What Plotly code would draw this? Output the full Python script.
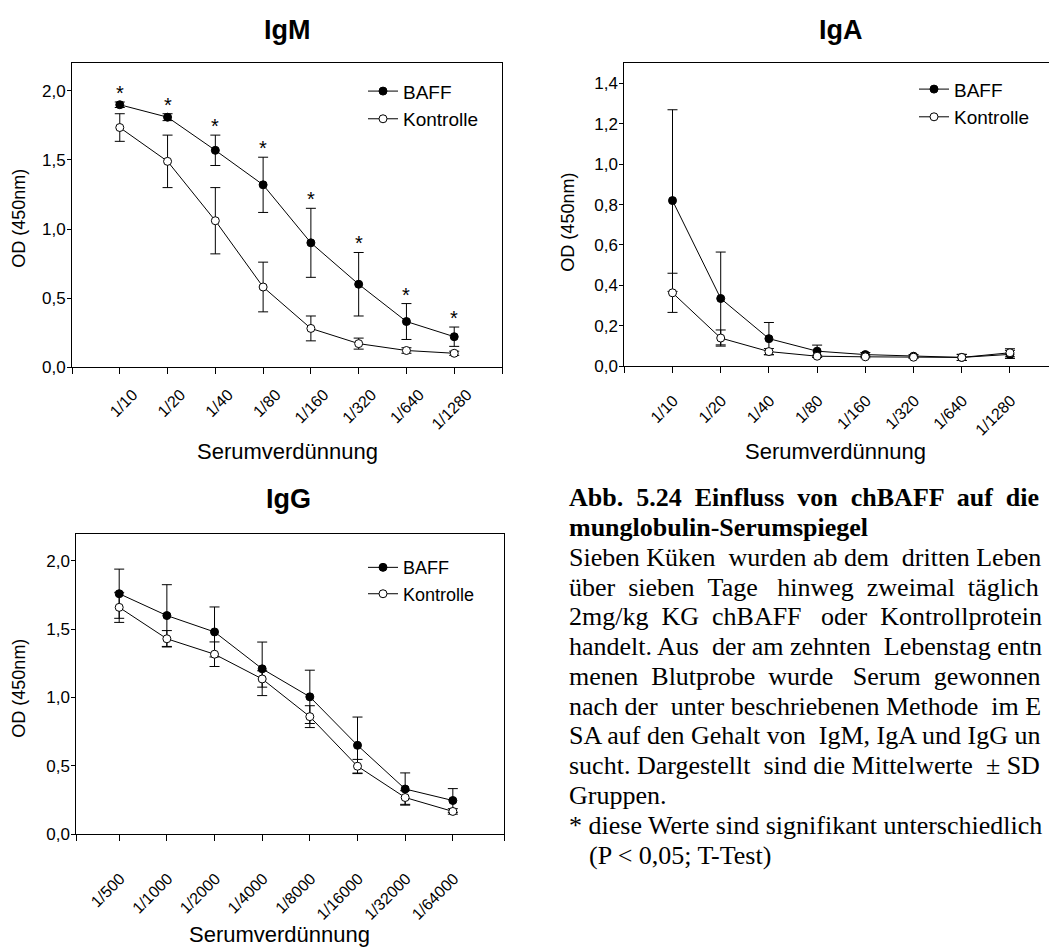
import plotly.graph_objects as go

W, H = 1049, 948

# ---------------- data ----------------
igm_labels = ["1/10", "1/20", "1/40", "1/80", "1/160", "1/320", "1/640", "1/1280"]
iga_labels = ["1/10", "1/20", "1/40", "1/80", "1/160", "1/320", "1/640", "1/1280"]
igg_labels = ["1/500", "1/1000", "1/2000", "1/4000", "1/8000", "1/16000", "1/32000", "1/64000"]

igm_baff = [1.90, 1.81, 1.57, 1.32, 0.90, 0.60, 0.33, 0.22]
igm_baff_sd = [0.02, 0.025, 0.11, 0.20, 0.25, 0.23, 0.13, 0.07]
igm_ktrl = [1.735, 1.49, 1.06, 0.58, 0.28, 0.17, 0.12, 0.10]
igm_ktrl_sd = [0.10, 0.19, 0.24, 0.18, 0.09, 0.04, 0.02, 0.015]
igm_signif = [True, True, True, True, True, True, True, True]

iga_baff = [0.82, 0.335, 0.136, 0.074, 0.057, 0.049, 0.043, 0.058]
iga_baff_sd = [0.45, 0.23, 0.08, 0.03, 0.01, 0.008, 0.015, 0.02]
iga_ktrl = [0.363, 0.139, 0.072, 0.049, 0.046, 0.044, 0.043, 0.066]
iga_ktrl_sd = [0.097, 0.04, 0.015, 0.005, 0.005, 0.005, 0.015, 0.02]

igg_baff = [1.76, 1.60, 1.48, 1.21, 1.005, 0.65, 0.33, 0.246]
igg_baff_sd = [0.18, 0.226, 0.183, 0.196, 0.195, 0.207, 0.118, 0.087]
igg_ktrl = [1.66, 1.43, 1.317, 1.136, 0.86, 0.497, 0.268, 0.166]
igg_ktrl_sd = [0.11, 0.06, 0.09, 0.06, 0.08, 0.05, 0.05, 0.02]

series_names = ["BAFF", "Kontrolle"]

# caption lines: (text, bold, justified, indent)
caption_lines = [
    ("Abb. 5.24 Einfluss von chBAFF auf die", True, True, False),
    ("munglobulin-Serumspiegel", True, False, False),
    ("Sieben Küken wurden ab dem dritten Leben", False, True, False),
    ("über sieben Tage hinweg zweimal täglich", False, True, False),
    ("2mg/kg KG chBAFF oder Kontrollprotein", False, True, False),
    ("handelt. Aus der am zehnten Lebenstag entn", False, True, False),
    ("menen Blutprobe wurde Serum gewonnen", False, True, False),
    ("nach der unter beschriebenen Methode im E", False, True, False),
    ("SA auf den Gehalt von IgM, IgA und IgG un", False, True, False),
    ("sucht. Dargestellt sind die Mittelwerte ± SD", False, True, False),
    ("Gruppen.", False, False, False),
    ("* diese Werte sind signifikant unterschiedlich", False, True, False),
    ("(P < 0,05; T-Test)", False, False, True),
]
caption_line_end = [1042, None, 1045, 1044, 1045, 1045, 1043, 1045, 1045, 1045, None, 1045, None]

# ---------------- helpers ----------------
def px(x):
    return x / W


def py(y):
    return 1 - y / H


SANS = "Liberation Sans, Arial, sans-serif"
SERIF = "Liberation Serif, Times New Roman, serif"

# Times-like advance widths (1/1000 em) for the caption
TR = dict(zip(" !(),-./:;<*±", [250, 333, 333, 333, 250, 333, 250, 278, 278, 278, 564, 500, 564]))
TR.update({d: 500 for d in "0123456789"})
TR.update(dict(zip("ABCDEFGHIJKLMNOPQRSTUVWXYZ",
                   [722, 667, 667, 722, 611, 556, 722, 722, 333, 389, 722, 611, 889, 722, 722, 556, 722,
                    667, 556, 611, 722, 722, 944, 722, 722, 611])))
TR.update(dict(zip("abcdefghijklmnopqrstuvwxyz",
                   [444, 500, 444, 500, 444, 333, 500, 500, 278, 278, 500, 278, 778, 500, 500, 500, 500,
                    333, 389, 278, 500, 500, 722, 500, 500, 444])))
TR.update({"ü": 500, "ä": 444})
TB = dict(TR)
TB.update(dict(zip("ABCDEFGHIJKLMNOPQRSTUVWXYZ",
                   [722, 667, 722, 722, 667, 611, 778, 778, 389, 500, 778, 667, 944, 722, 778, 611, 778,
                    722, 556, 667, 722, 722, 1000, 722, 722, 667])))
TB.update(dict(zip("abcdefghijklmnopqrstuvwxyz",
                   [500, 556, 444, 556, 444, 333, 500, 556, 278, 333, 556, 278, 833, 556, 500, 556, 556,
                    444, 389, 333, 556, 500, 722, 500, 500, 444])))
TB["-"] = 333

CAP_SIZE = 26


def text_width(s, bold):
    table = TB if bold else TR
    return sum(table.get(c, 500) for c in s) * CAP_SIZE / 1000.0


def justify(s, bold, x0, x1):
    """Spread extra non-breaking spaces evenly over the word gaps."""
    words = s.split(" ")
    gaps = len(words) - 1
    natural = text_width(s, bold)
    space = 0.25 * CAP_SIZE
    n_extra = max(0, int((x1 - x0 - natural) / space))
    out = words[0]
    given = 0
    for i, w in enumerate(words[1:]):
        target = int(round(n_extra * (i + 1) / gaps))
        k = target - given
        given = target
        out += " " + "\u00a0" * k + w
    return out


fig = go.Figure()

panels = [
    ("", igm_labels, igm_baff, igm_baff_sd, igm_ktrl, igm_ktrl_sd, "legend"),
    ("2", iga_labels, iga_baff, iga_baff_sd, iga_ktrl, iga_ktrl_sd, "legend2"),
    ("3", igg_labels, igg_baff, igg_baff_sd, igg_ktrl, igg_ktrl_sd, "legend3"),
]

for suf, labels, b, bsd, k, ksd, leg in panels:
    xs = list(range(len(labels)))
    fig.add_trace(go.Scatter(
        x=xs, y=b, name=series_names[0], mode="lines+markers",
        xaxis="x" + suf, yaxis="y" + suf, legend=leg,
        line=dict(color="black", width=1),
        marker=dict(symbol="circle", size=8, color="black", line=dict(color="black", width=1)),
        error_y=dict(type="data", array=bsd, visible=True, color="black", thickness=1, width=5),
    ))
    fig.add_trace(go.Scatter(
        x=xs, y=k, name=series_names[1], mode="lines+markers",
        xaxis="x" + suf, yaxis="y" + suf, legend=leg,
        line=dict(color="black", width=1),
        marker=dict(symbol="circle", size=8, color="white", line=dict(color="black", width=1)),
        error_y=dict(type="data", array=ksd, visible=True, color="black", thickness=1, width=5),
    ))

axis_common = dict(
    showline=True, linecolor="black", linewidth=1, showgrid=False, zeroline=False,
    ticks="outside", tickcolor="black", tickwidth=1,
)


def xaxis_cfg(domain, rng, labels, mirror, shift, standoff):
    n = len(labels)
    return dict(
        axis_common, domain=domain, range=rng,
        tickmode="array",
        tickvals=[rng[0]] + list(range(n)) + [rng[1]],
        ticktext=[""] + labels + [""],
        tickangle=-45, ticklen=6, mirror=mirror,
        ticklabelshift=shift, ticklabelstandoff=standoff,
        tickfont=dict(family=SANS, size=16, color="black"),
    )


def yaxis_cfg(domain, rng, step, top, mirror):
    vals = []
    v = 0.0
    while v <= top + 1e-9:
        vals.append(round(v, 2))
        v += step
    return dict(
        axis_common, domain=domain, range=rng,
        tickmode="array", tickvals=vals, tickformat=".1f", ticklen=4, mirror=mirror,
        ticklabelstandoff=-2,
        tickfont=dict(family=SANS, size=17, color="black"),
    )


layout = dict(
    width=W, height=H,
    margin=dict(l=0, r=0, t=0, b=0),
    paper_bgcolor="white", plot_bgcolor="white",
    separators=",.",
    font=dict(family=SANS, color="black"),
    xaxis=xaxis_cfg([px(72), px(502)], [-1, 8], igm_labels, True, 13, 5),
    yaxis=yaxis_cfg([py(371), py(64)], [0, 2.2], 0.5, 2.0, True),
    xaxis2=xaxis_cfg([px(624.3), 1.0], [-1, 7.81], iga_labels, True, 1, 12),
    yaxis2=yaxis_cfg([py(370), py(64)], [0, 1.5], 0.2, 1.4, False),
    xaxis3=xaxis_cfg([px(76.3), px(504.3)], [-0.9, 8.08], igg_labels, True, 1, 22),
    yaxis3=yaxis_cfg([py(843), py(539.3)], [0, 2.2], 0.5, 2.0, True),
)
layout["xaxis"]["anchor"] = "y"
layout["yaxis"]["anchor"] = "x"
layout["xaxis2"]["anchor"] = "y2"
layout["yaxis2"]["anchor"] = "x2"
layout["xaxis3"]["anchor"] = "y3"
layout["yaxis3"]["anchor"] = "x3"

leg_common = dict(
    bgcolor="rgba(0,0,0,0)", borderwidth=0, xanchor="left", yanchor="top",
    tracegroupgap=0, itemwidth=30,
)
layout["legend"] = dict(leg_common, x=px(363), y=py(73), font=dict(family=SANS, size=19, color="black"))
layout["legend2"] = dict(leg_common, x=px(914), y=py(71), font=dict(family=SANS, size=19, color="black"))
layout["legend3"] = dict(leg_common, x=px(363), y=py(555), font=dict(family=SANS, size=18, color="black"))

fig.update_layout(**layout)

ann = []
# panel titles
for text, cx, cy in [("IgM", 287, 30), ("IgA", 841, 30), ("IgG", 288, 504)]:
    ann.append(dict(text="<b>%s</b>" % text, x=px(cx), y=py(cy), xref="paper", yref="paper",
                    showarrow=False, xanchor="center", yanchor="middle",
                    font=dict(family="Liberation Sans Narrow, Arial Narrow, " + SANS, size=27, color="black")))
# axis titles
for cx, cy in [(287, 456), (835, 456), (279, 944)]:
    ann.append(dict(text="Serumverdünnung", x=px(cx), y=py(cy), xref="paper", yref="paper",
                    showarrow=False, xanchor="center", yanchor="middle",
                    font=dict(family=SANS, size=22, color="black")))
for cx, cy in [(19, 221), (568, 225), (19, 696)]:
    ann.append(dict(text="OD (450nm)", x=px(cx), y=py(cy), xref="paper", yref="paper",
                    showarrow=False, xanchor="center", yanchor="middle", textangle=-90,
                    font=dict(family=SANS, size=18, color="black")))
# significance stars (IgM)
for i, (v, sd, s) in enumerate(zip(igm_baff, igm_baff_sd, igm_signif)):
    if s:
        ann.append(dict(text="*", x=i, y=v + sd, xref="x", yref="y", showarrow=False,
                        xanchor="center", yanchor="bottom", yshift=-4,
                        font=dict(family=SANS, size=20, color="black")))
# caption
X0 = 567
for j, ((line, bold, just, indent), x_end) in enumerate(zip(caption_lines, caption_line_end)):
    x_start = X0 + (text_width("* ", False) if indent else 0)
    txt = justify(line, bold, x_start, x_end) if just else line
    txt = txt.replace("<", "&lt;")
    if bold:
        txt = "<b>%s</b>" % txt
    ann.append(dict(text=txt, x=px(x_start), y=py(503 + 30.1 * j), xref="paper", yref="paper",
                    showarrow=False, xanchor="left", yanchor="middle",
                    font=dict(family=SERIF, size=CAP_SIZE, color="black")))

fig.update_layout(annotations=ann)

fig.write_html("out.html")
